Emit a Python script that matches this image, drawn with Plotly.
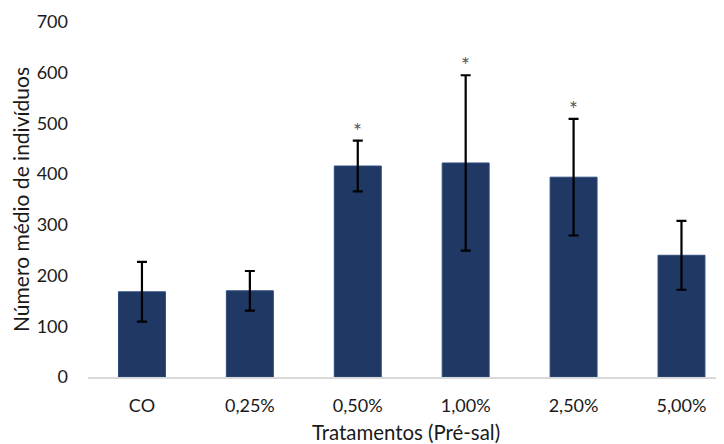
import plotly.graph_objects as go

categories = ["CO", "0,25%", "0,50%", "1,00%", "2,50%", "5,00%"]
means = [168, 170, 416, 422, 394, 240]
errors = [59, 39, 50, 173, 115, 68]
significant = [False, False, True, True, True, False]
y_ticks = [0, 100, 200, 300, 400, 500, 600, 700]

FONT = "Lato, 'Open Sans', sans-serif"
fig = go.Figure()
fig.add_trace(go.Bar(
    x=categories, y=means,
    width=0.435,
    marker=dict(color="#1F3864", line=dict(color="#2E4A7D", width=1)),
    error_y=dict(type="data", array=errors, visible=True, color="black", thickness=2.2, width=5),
    showlegend=False,
))

for c, m, e, s in zip(categories, means, errors, significant):
    if s:
        fig.add_annotation(x=c, y=m + e, text="*", showarrow=False, yanchor="bottom",
                           yshift=-4, font=dict(family=FONT, size=21, color="#595959"))

# page body has an 8px default margin, so the figure is 8px smaller
fig.update_layout(
    width=716, height=436,
    margin=dict(l=80, r=0, t=14, b=66.5),
    paper_bgcolor="white", plot_bgcolor="white",
    font=dict(family=FONT, size=18, color="#1a1a1a"),
)
fig.update_xaxes(
    range=[-0.5, 5.394], automargin=False,
    showline=True, linecolor="#D9D9D9", linewidth=1.5,
    showgrid=False, ticks="", ticklabelstandoff=12,
    title=dict(text="Tratamentos (Pré-sal)", font=dict(size=20.4), standoff=13),
    tickfont=dict(size=18),
)
fig.update_yaxes(
    range=[0, 700], tickvals=y_ticks, showgrid=False, zeroline=False, showline=False,
    ticks="", ticklabelstandoff=19, automargin=False,
    title=dict(text="Número médio de indivíduos", font=dict(size=21), standoff=5),
    tickfont=dict(size=18),
)
fig.write_html("out.html")
